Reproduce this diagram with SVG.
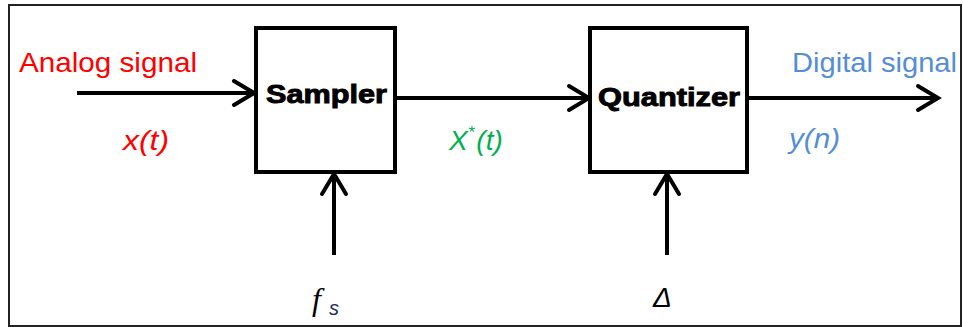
<svg xmlns="http://www.w3.org/2000/svg" width="963" height="327" viewBox="0 0 963 327">
<style>
.box{fill:#fff;stroke:#000;stroke-width:4}
.ln{fill:none;stroke:#000;stroke-width:4;stroke-linecap:butt}
.hd{fill:none;stroke:#000;stroke-width:4;stroke-linecap:round;stroke-linejoin:miter}
.lbl{font-family:"Liberation Sans",Arial,sans-serif;font-size:28px}
.it{font-family:"Liberation Sans",Arial,sans-serif;font-size:28px;font-style:italic}
.bl{font-family:"Liberation Sans",Arial,sans-serif;font-size:25px;font-weight:bold;fill:#000;stroke:#000;stroke-width:0.9}
</style>
<rect x="9" y="5" width="952" height="321" fill="#fff" stroke="#222" stroke-width="2"/>
<g id="connectors">
<line class="ln" x1="77" y1="93" x2="253" y2="93"/>
<polyline class="hd" points="234,81 254,93 234,105"/>
<line class="ln" x1="395" y1="98" x2="588" y2="98"/>
<polyline class="hd" points="569,86 589,98 569,110"/>
<line class="ln" x1="747" y1="98" x2="937" y2="98"/>
<polyline class="hd" points="918,86 938,98 918,110"/>
<line class="ln" x1="334" y1="255" x2="334" y2="175"/>
<polyline class="hd" points="322,194 334,174 346,194"/>
<line class="ln" x1="667" y1="255" x2="667" y2="175"/>
<polyline class="hd" points="655,194 667,174 679,194"/>
</g>
<g id="sampler">
<rect class="box" x="256" y="28" width="139" height="144"/>
<text class="bl" x="266" y="103" textLength="121" lengthAdjust="spacingAndGlyphs">Sampler</text>
</g>
<g id="quantizer">
<rect class="box" x="590" y="28" width="157" height="144"/>
<text class="bl" x="598" y="106" textLength="142" lengthAdjust="spacingAndGlyphs">Quantizer</text>
</g>
<g id="labels">
<text class="lbl" x="19" y="72" fill="#FF0000" textLength="178" lengthAdjust="spacingAndGlyphs">Analog signal</text>
<text class="lbl" x="792" y="72" fill="#558ED5" textLength="165" lengthAdjust="spacingAndGlyphs">Digital signal</text>
<text class="it" x="123" y="150" fill="#FF0000" textLength="46" lengthAdjust="spacingAndGlyphs">x(t)</text>
<text class="it" x="449" y="150" fill="#00B050">X<tspan font-size="17" dy="-12">*</tspan><tspan dy="12" dx="2">(t)</tspan></text>
<text class="it" x="789" y="148" fill="#558ED5" textLength="51" lengthAdjust="spacingAndGlyphs">y(n)</text>
<text x="312" y="310" fill="#000" font-family="'Liberation Serif',serif" font-style="italic" font-size="32">f</text>
<text x="329" y="315" fill="#1F2E5A" font-family="'Liberation Sans',Arial,sans-serif" font-style="italic" font-size="20">s</text>
<text class="it" x="653" y="307" fill="#000">Δ</text>
</g>
</svg>
